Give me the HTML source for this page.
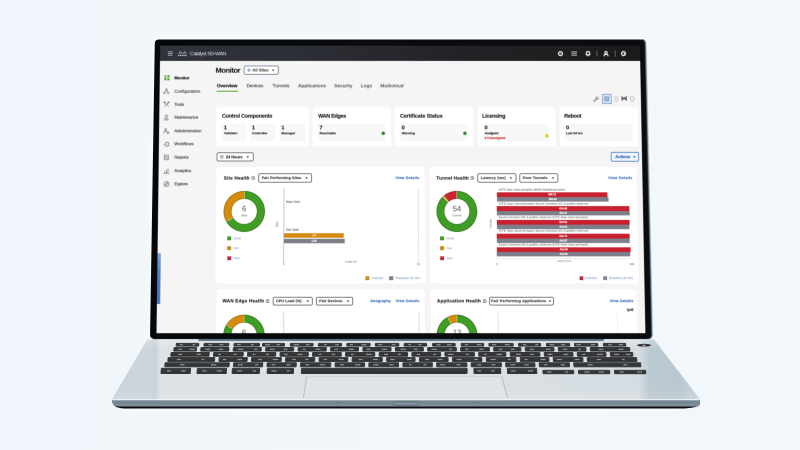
<!DOCTYPE html>
<html><head><meta charset="utf-8"><title>Catalyst SD-WAN</title>
<style>
html,body{margin:0;padding:0}
body{width:800px;height:450px;overflow:hidden;position:relative;background:#f1f7fb;font-family:"Liberation Sans",sans-serif}
#lap{position:absolute;left:0;top:0}
#scr{position:absolute;left:0;top:0;width:1920px;height:1150px;transform-origin:0 0;transform:matrix3d(0.24984375,0,0,-2.574430202e-20,-0.005778242194,0.2445477603,0,-1.636326447e-05,0,0,1,0,160.2,45.7,0,1);overflow:hidden;background:#f6f6f6;filter:blur(1.4px)}
#scr div,#scr span,#scr svg{position:absolute;box-sizing:border-box}
#scr span{white-space:nowrap;display:block;-webkit-text-stroke:0.35px currentColor}
.card{background:#fff;border-radius:9px}
.sub{background:#f8f8f8;border-radius:4px}
.dd{border:3px solid #4f555c;border-radius:7px;background:#fff}
</style></head><body>
<svg id="lap" width="800" height="450" viewBox="0 0 800 450">
<defs>
<linearGradient id="bg" x1="0" y1="0" x2="1" y2="0">
<stop offset="0" stop-color="#f0f6fb"/><stop offset="0.5" stop-color="#f2f7fb"/><stop offset="1" stop-color="#f2f7fb"/></linearGradient>
<linearGradient id="deck" x1="112" y1="0" x2="700" y2="0" gradientUnits="userSpaceOnUse">
<stop offset="0" stop-color="#c9d3da"/>
<stop offset="0.065" stop-color="#cdd6dc"/>
<stop offset="0.073" stop-color="#c6d0d7"/>
<stop offset="0.082" stop-color="#dce2e6"/>
<stop offset="0.3" stop-color="#dbe1e5"/>
<stop offset="0.6" stop-color="#dae0e4"/>
<stop offset="0.895" stop-color="#d6dde2"/>
<stop offset="0.915" stop-color="#bbc9d2"/>
<stop offset="0.96" stop-color="#b8c7d0"/>
<stop offset="1" stop-color="#c6d1d8"/>
</linearGradient>
<linearGradient id="hinge" x1="0" y1="338" x2="0" y2="341.2" gradientUnits="userSpaceOnUse">
<stop offset="0" stop-color="#2c3742"/><stop offset="0.5" stop-color="#4d5f70"/><stop offset="1" stop-color="#7d91a1"/>
</linearGradient>
<linearGradient id="deckv" x1="0" y1="339" x2="0" y2="400" gradientUnits="userSpaceOnUse">
<stop offset="0" stop-color="#ffffff" stop-opacity="0.25"/><stop offset="0.15" stop-color="#ffffff" stop-opacity="0"/>
<stop offset="0.8" stop-color="#ffffff" stop-opacity="0"/><stop offset="1" stop-color="#ffffff" stop-opacity="0.15"/>
</linearGradient>
<linearGradient id="front" x1="0" y1="400" x2="0" y2="407" gradientUnits="userSpaceOnUse">
<stop offset="0" stop-color="#788a96"/><stop offset="0.35" stop-color="#74868f"/><stop offset="1" stop-color="#8494a0"/>
</linearGradient>
<linearGradient id="key" x1="0" y1="0" x2="0" y2="1">
<stop offset="0" stop-color="#454749"/><stop offset="0.25" stop-color="#37393b"/><stop offset="1" stop-color="#2e3032"/>
</linearGradient>
<linearGradient id="bez" x1="150" y1="0" x2="652" y2="0" gradientUnits="userSpaceOnUse">
<stop offset="0" stop-color="#060709"/><stop offset="0.5" stop-color="#0a0b0d"/><stop offset="1" stop-color="#0b0c0f"/>
</linearGradient>
<linearGradient id="hl" x1="0" y1="0" x2="1" y2="0">
<stop offset="0" stop-color="#0b0c0f"/><stop offset="0.45" stop-color="#0f1419"/><stop offset="0.62" stop-color="#3d4b58"/><stop offset="0.8" stop-color="#8496a4"/><stop offset="0.93" stop-color="#cfdae2"/><stop offset="1" stop-color="#f2f7fb" stop-opacity="0"/>
</linearGradient>
<radialGradient id="shadow" cx="0.5" cy="0.5" r="0.5"><stop offset="0" stop-color="#ffffff" stop-opacity="0.7"/><stop offset="1" stop-color="#ffffff" stop-opacity="0"/></radialGradient>
<filter id="b1"><feGaussianBlur stdDeviation="0.3"/></filter>
<filter id="b2"><feGaussianBlur stdDeviation="1.5"/></filter>
</defs>
<rect width="800" height="450" fill="url(#bg)"/>
<path d="M153 36 H648 L654 340 H148 Z" fill="#f8fbfd" filter="url(#b2)"/>
<ellipse cx="406" cy="410.5" rx="300" ry="5" fill="url(#shadow)"/>
<path d="M112.4 400 Q112.4 408.4 124 408.4 L684 408.4 Q697 408.4 699.4 404 L699.4 400 Z" fill="#0c0e12"/>
<path d="M112 399.3 L112 401.5 Q112.6 406.5 120 406.5 L697 406.5 Q700 406.5 700 403.6 L700 399.3 Z" fill="url(#front)"/>
<path d="M147.5 339.2 L653.8 339.2 L700 399.2 Q700.5 400.3 699 400.3 L113 400.3 Q111.5 400.3 112 399.2 Z" fill="url(#deck)"/>
<path d="M147.5 339.2 L653.8 339.2 L700 399.2 L112 399.2 Z" fill="url(#deckv)"/>
<path d="M112.3 399.6 L699.7 399.6" stroke="#eef2f5" stroke-width="1" fill="none"/>
<rect x="393.4" y="401.6" width="25" height="4" rx="1.2" fill="#7c8d99" stroke="#566877" stroke-width="0.7"/>
<path d="M337 403.2 l1 -1.4 l1 1.4 z M473.3 403.2 l1 -1.4 l1 1.4 z" fill="#55677a"/>
<path d="M306.6 376.6 L501.6 376.6 L507.5 398 L303.4 398 Z" fill="#dee4e8"/>
<path d="M306.6 376.6 L303.4 398 M501.6 376.6 L507.5 398" stroke="#a3adb6" stroke-width="0.7" fill="none"/>
<path d="M306.6 376.6 L501.6 376.6" stroke="#c3cbd1" stroke-width="0.5" fill="none"/>
<g fill="url(#key)" stroke="#343638" stroke-width="1.0" stroke-linejoin="round" filter="url(#b1)"><path d="M176.40 343.40 L198.85 343.40 L198.58 346.10 L176.13 346.10 Z"/><path d="M204.15 343.40 L228.85 343.40 L228.62 346.10 L203.92 346.10 Z"/><path d="M234.15 343.40 L259.60 343.40 L259.40 346.10 L233.95 346.10 Z"/><path d="M262.65 343.40 L284.60 343.40 L284.44 346.10 L262.49 346.10 Z"/><path d="M290.40 343.40 L313.10 343.40 L312.97 346.10 L290.27 346.10 Z"/><path d="M318.40 343.40 L341.60 343.40 L341.51 346.10 L318.31 346.10 Z"/><path d="M346.90 343.40 L370.10 343.40 L370.04 346.10 L346.84 346.10 Z"/><path d="M375.40 343.40 L398.85 343.40 L398.83 346.10 L375.38 346.10 Z"/><path d="M404.15 343.40 L426.60 343.40 L426.61 346.10 L404.16 346.10 Z"/><path d="M432.65 343.40 L455.10 343.40 L455.15 346.10 L432.70 346.10 Z"/><path d="M461.15 343.40 L483.60 343.40 L483.68 346.10 L461.23 346.10 Z"/><path d="M488.90 343.40 L513.10 343.40 L513.22 346.10 L489.02 346.10 Z"/><path d="M518.40 343.40 L540.60 343.40 L540.75 346.10 L518.55 346.10 Z"/><path d="M546.40 343.40 L569.60 343.40 L569.79 346.10 L546.59 346.10 Z"/><path d="M574.40 343.40 L597.60 343.40 L597.82 346.10 L574.62 346.10 Z"/><path d="M603.40 343.40 L625.60 343.40 L625.86 346.10 L603.66 346.10 Z"/><path d="M174.15 347.50 L196.60 347.50 L196.26 351.10 L173.81 351.10 Z"/><path d="M201.00 347.50 L229.00 347.50 L228.71 351.10 L200.71 351.10 Z"/><path d="M233.40 347.50 L261.40 347.50 L261.16 351.10 L233.16 351.10 Z"/><path d="M265.80 347.50 L293.80 347.50 L293.61 351.10 L265.61 351.10 Z"/><path d="M298.20 347.50 L326.30 347.50 L326.16 351.10 L298.06 351.10 Z"/><path d="M330.70 347.50 L358.55 347.50 L358.46 351.10 L330.61 351.10 Z"/><path d="M362.95 347.50 L391.05 347.50 L391.01 351.10 L362.91 351.10 Z"/><path d="M395.45 347.50 L423.30 347.50 L423.31 351.10 L395.46 351.10 Z"/><path d="M427.70 347.50 L456.30 347.50 L456.36 351.10 L427.76 351.10 Z"/><path d="M460.70 347.50 L489.30 347.50 L489.41 351.10 L460.81 351.10 Z"/><path d="M493.70 347.50 L520.80 347.50 L520.95 351.10 L493.85 351.10 Z"/><path d="M525.20 347.50 L553.80 347.50 L554.00 351.10 L525.40 351.10 Z"/><path d="M558.20 347.50 L585.80 347.50 L586.05 351.10 L558.45 351.10 Z"/><path d="M590.20 347.50 L629.60 347.50 L629.91 351.10 L590.51 351.10 Z"/><path d="M171.15 352.50 L209.30 352.50 L208.96 356.20 L170.81 356.20 Z"/><path d="M213.70 352.50 L243.30 352.50 L243.02 356.20 L213.42 356.20 Z"/><path d="M247.70 352.50 L275.80 352.50 L275.57 356.20 L247.47 356.20 Z"/><path d="M280.20 352.50 L308.30 352.50 L308.13 356.20 L280.03 356.20 Z"/><path d="M312.70 352.50 L341.30 352.50 L341.18 356.20 L312.58 356.20 Z"/><path d="M345.70 352.50 L374.80 352.50 L374.73 356.20 L345.63 356.20 Z"/><path d="M379.20 352.50 L407.55 352.50 L407.53 356.20 L379.18 356.20 Z"/><path d="M411.95 352.50 L440.55 352.50 L440.58 356.20 L411.98 356.20 Z"/><path d="M444.95 352.50 L474.30 352.50 L474.38 356.20 L445.03 356.20 Z"/><path d="M478.70 352.50 L505.80 352.50 L505.93 356.20 L478.83 356.20 Z"/><path d="M510.20 352.50 L539.80 352.50 L539.99 356.20 L510.39 356.20 Z"/><path d="M544.20 352.50 L572.80 352.50 L573.04 356.20 L544.44 356.20 Z"/><path d="M577.20 352.50 L605.80 352.50 L606.09 356.20 L577.49 356.20 Z"/><path d="M610.20 352.50 L632.60 352.50 L632.94 356.20 L610.54 356.20 Z"/><path d="M168.15 357.60 L214.80 357.60 L214.46 361.40 L167.81 361.40 Z"/><path d="M219.20 357.60 L247.30 357.60 L247.02 361.40 L218.92 361.40 Z"/><path d="M251.70 357.60 L281.30 357.60 L281.08 361.40 L251.48 361.40 Z"/><path d="M285.70 357.60 L314.80 357.60 L314.63 361.40 L285.53 361.40 Z"/><path d="M319.20 357.60 L347.80 357.60 L347.68 361.40 L319.08 361.40 Z"/><path d="M352.20 357.60 L382.30 357.60 L382.24 361.40 L352.14 361.40 Z"/><path d="M386.70 357.60 L415.05 357.60 L415.04 361.40 L386.69 361.40 Z"/><path d="M419.45 357.60 L448.05 357.60 L448.09 361.40 L419.49 361.40 Z"/><path d="M452.45 357.60 L481.80 357.60 L481.90 361.40 L452.55 361.40 Z"/><path d="M486.20 357.60 L515.80 357.60 L515.95 361.40 L486.35 361.40 Z"/><path d="M520.20 357.60 L548.80 357.60 L549.01 361.40 L520.41 361.40 Z"/><path d="M553.20 357.60 L582.80 357.60 L583.06 361.40 L553.46 361.40 Z"/><path d="M587.20 357.60 L636.60 357.60 L636.93 361.40 L587.53 361.40 Z"/><path d="M165.15 362.80 L229.30 362.80 L228.95 366.80 L164.80 366.80 Z"/><path d="M233.70 362.80 L262.80 362.80 L262.54 366.80 L233.44 366.80 Z"/><path d="M267.20 362.80 L296.30 362.80 L296.09 366.80 L266.99 366.80 Z"/><path d="M300.70 362.80 L330.80 362.80 L330.65 366.80 L300.55 366.80 Z"/><path d="M335.20 362.80 L364.55 362.80 L364.46 366.80 L335.11 366.80 Z"/><path d="M368.95 362.80 L398.55 362.80 L398.51 366.80 L368.91 366.80 Z"/><path d="M402.95 362.80 L432.30 362.80 L432.32 366.80 L402.97 366.80 Z"/><path d="M436.70 362.80 L466.80 362.80 L466.88 366.80 L436.78 366.80 Z"/><path d="M471.20 362.80 L501.30 362.80 L501.43 366.80 L471.33 366.80 Z"/><path d="M505.70 362.80 L534.80 362.80 L534.99 366.80 L505.89 366.80 Z"/><path d="M539.20 362.80 L569.30 362.80 L569.55 366.80 L539.45 366.80 Z"/><path d="M573.70 362.80 L640.60 362.80 L640.93 366.80 L574.03 366.80 Z"/><path d="M161.40 368.30 L190.60 368.30 L190.13 373.50 L160.93 373.50 Z"/><path d="M197.40 368.30 L226.60 368.30 L226.20 373.50 L197.00 373.50 Z"/><path d="M232.40 368.30 L259.60 368.30 L259.27 373.50 L232.07 373.50 Z"/><path d="M267.40 368.30 L293.60 368.30 L293.34 373.50 L267.14 373.50 Z"/><path d="M301.40 368.30 L467.10 368.30 L467.06 373.50 L301.36 373.50 Z"/><path d="M473.90 368.30 L500.60 368.30 L500.77 373.50 L474.07 373.50 Z"/><path d="M507.40 368.30 L536.60 368.30 L536.84 373.50 L507.64 373.50 Z"/><path d="M542.90 370.30 L573.60 370.30 L573.82 373.70 L543.12 373.70 Z"/><path d="M578.40 370.30 L609.60 370.30 L609.88 373.70 L578.68 373.70 Z"/><path d="M614.40 370.30 L645.60 370.30 L645.93 373.70 L614.73 373.70 Z"/></g>
<g fill="#d0d2d4" opacity="0.6" filter="url(#b1)"><rect x="179.8" y="344.1" width="3.0" height="1.2" /><rect x="192.5" y="344.1" width="2.7" height="1.2" /><rect x="208.4" y="344.1" width="3.6" height="1.2" /><rect x="219.5" y="344.1" width="4.0" height="1.2" /><rect x="237.0" y="344.1" width="3.8" height="1.2" /><rect x="250.8" y="344.1" width="2.8" height="1.2" /><rect x="265.2" y="344.1" width="5.0" height="1.2" /><rect x="276.6" y="344.1" width="3.2" height="1.2" /><rect x="293.6" y="344.1" width="5.3" height="1.2" /><rect x="306.0" y="344.1" width="3.7" height="1.2" /><rect x="324.1" y="344.1" width="2.6" height="1.2" /><rect x="335.4" y="344.1" width="3.4" height="1.2" /><rect x="350.0" y="344.1" width="2.9" height="1.2" /><rect x="361.5" y="344.1" width="4.9" height="1.2" /><rect x="378.0" y="344.1" width="4.2" height="1.2" /><rect x="391.8" y="344.1" width="3.6" height="1.2" /><rect x="408.4" y="344.1" width="2.7" height="1.2" /><rect x="418.3" y="344.1" width="3.1" height="1.2" /><rect x="436.7" y="344.1" width="3.8" height="1.2" /><rect x="447.0" y="344.1" width="4.3" height="1.2" /><rect x="464.7" y="344.1" width="3.4" height="1.2" /><rect x="476.8" y="344.1" width="4.6" height="1.2" /><rect x="491.9" y="344.1" width="4.2" height="1.2" /><rect x="504.8" y="344.1" width="5.1" height="1.2" /><rect x="522.8" y="344.1" width="3.4" height="1.2" /><rect x="535.3" y="344.1" width="2.9" height="1.2" /><rect x="549.4" y="344.1" width="4.8" height="1.2" /><rect x="561.0" y="344.1" width="4.0" height="1.2" /><rect x="576.4" y="344.1" width="4.5" height="1.2" /><rect x="590.7" y="344.1" width="4.2" height="1.2" /><rect x="608.2" y="344.1" width="3.4" height="1.2" /><rect x="618.7" y="344.1" width="4.3" height="1.2" /><rect x="177.9" y="348.7" width="3.9" height="1.2" /><rect x="189.5" y="348.7" width="5.3" height="1.2" /><rect x="205.5" y="348.7" width="4.5" height="1.2" /><rect x="218.6" y="348.7" width="4.6" height="1.2" /><rect x="237.9" y="348.7" width="5.5" height="1.2" /><rect x="253.9" y="348.7" width="3.4" height="1.2" /><rect x="270.0" y="348.7" width="4.5" height="1.2" /><rect x="283.6" y="348.7" width="3.9" height="1.2" /><rect x="302.6" y="348.7" width="2.9" height="1.2" /><rect x="315.7" y="348.7" width="4.8" height="1.2" /><rect x="334.7" y="348.7" width="3.2" height="1.2" /><rect x="348.9" y="348.7" width="5.1" height="1.2" /><rect x="366.6" y="348.7" width="3.8" height="1.2" /><rect x="381.8" y="348.7" width="5.2" height="1.2" /><rect x="400.6" y="348.7" width="5.1" height="1.2" /><rect x="414.0" y="348.7" width="3.7" height="1.2" /><rect x="431.7" y="348.7" width="5.2" height="1.2" /><rect x="449.2" y="348.7" width="3.0" height="1.2" /><rect x="465.1" y="348.7" width="3.2" height="1.2" /><rect x="479.6" y="348.7" width="4.0" height="1.2" /><rect x="498.9" y="348.7" width="3.3" height="1.2" /><rect x="510.9" y="348.7" width="3.8" height="1.2" /><rect x="529.7" y="348.7" width="4.2" height="1.2" /><rect x="545.9" y="348.7" width="4.6" height="1.2" /><rect x="562.8" y="348.7" width="4.4" height="1.2" /><rect x="578.3" y="348.7" width="2.7" height="1.2" /><rect x="598.6" y="348.7" width="4.8" height="1.2" /><rect x="618.6" y="348.7" width="4.9" height="1.2" /><rect x="178.3" y="353.8" width="3.7" height="1.2" /><rect x="196.6" y="353.8" width="4.4" height="1.2" /><rect x="218.2" y="353.8" width="2.7" height="1.2" /><rect x="233.7" y="353.8" width="3.0" height="1.2" /><rect x="252.7" y="353.8" width="2.7" height="1.2" /><rect x="266.0" y="353.8" width="3.0" height="1.2" /><rect x="284.0" y="353.8" width="3.6" height="1.2" /><rect x="297.5" y="353.8" width="5.1" height="1.2" /><rect x="318.5" y="353.8" width="2.9" height="1.2" /><rect x="331.8" y="353.8" width="3.5" height="1.2" /><rect x="350.9" y="353.8" width="2.9" height="1.2" /><rect x="366.0" y="353.8" width="5.5" height="1.2" /><rect x="384.0" y="353.8" width="4.0" height="1.2" /><rect x="398.0" y="353.8" width="2.8" height="1.2" /><rect x="416.8" y="353.8" width="3.3" height="1.2" /><rect x="433.1" y="353.8" width="3.0" height="1.2" /><rect x="448.0" y="353.8" width="5.4" height="1.2" /><rect x="465.8" y="353.8" width="2.9" height="1.2" /><rect x="484.1" y="353.8" width="2.6" height="1.2" /><rect x="496.6" y="353.8" width="5.4" height="1.2" /><rect x="516.2" y="353.8" width="4.6" height="1.2" /><rect x="530.1" y="353.8" width="3.6" height="1.2" /><rect x="547.7" y="353.8" width="4.8" height="1.2" /><rect x="563.5" y="353.8" width="4.8" height="1.2" /><rect x="582.1" y="353.8" width="3.2" height="1.2" /><rect x="597.1" y="353.8" width="5.5" height="1.2" /><rect x="614.2" y="353.8" width="4.9" height="1.2" /><rect x="625.8" y="353.8" width="4.7" height="1.2" /><rect x="176.8" y="358.9" width="4.1" height="1.2" /><rect x="201.6" y="358.9" width="2.6" height="1.2" /><rect x="222.9" y="358.9" width="3.3" height="1.2" /><rect x="237.5" y="358.9" width="4.6" height="1.2" /><rect x="258.3" y="358.9" width="3.8" height="1.2" /><rect x="272.7" y="358.9" width="5.5" height="1.2" /><rect x="292.3" y="358.9" width="3.6" height="1.2" /><rect x="305.3" y="358.9" width="3.2" height="1.2" /><rect x="323.7" y="358.9" width="3.1" height="1.2" /><rect x="338.6" y="358.9" width="5.2" height="1.2" /><rect x="358.6" y="358.9" width="3.9" height="1.2" /><rect x="373.0" y="358.9" width="4.9" height="1.2" /><rect x="390.1" y="358.9" width="4.5" height="1.2" /><rect x="407.0" y="358.9" width="4.8" height="1.2" /><rect x="425.2" y="358.9" width="3.9" height="1.2" /><rect x="437.7" y="358.9" width="4.9" height="1.2" /><rect x="456.6" y="358.9" width="4.9" height="1.2" /><rect x="474.2" y="358.9" width="3.7" height="1.2" /><rect x="490.4" y="358.9" width="5.3" height="1.2" /><rect x="507.8" y="358.9" width="3.0" height="1.2" /><rect x="524.6" y="358.9" width="3.0" height="1.2" /><rect x="540.6" y="358.9" width="4.9" height="1.2" /><rect x="556.8" y="358.9" width="5.0" height="1.2" /><rect x="574.8" y="358.9" width="4.5" height="1.2" /><rect x="596.8" y="358.9" width="4.1" height="1.2" /><rect x="622.1" y="358.9" width="2.5" height="1.2" /><rect x="180.2" y="364.2" width="4.4" height="1.2" /><rect x="210.9" y="364.2" width="5.3" height="1.2" /><rect x="238.0" y="364.2" width="5.1" height="1.2" /><rect x="255.1" y="364.2" width="3.1" height="1.2" /><rect x="271.8" y="364.2" width="3.4" height="1.2" /><rect x="286.3" y="364.2" width="4.3" height="1.2" /><rect x="305.4" y="364.2" width="3.8" height="1.2" /><rect x="319.8" y="364.2" width="5.2" height="1.2" /><rect x="340.0" y="364.2" width="3.9" height="1.2" /><rect x="355.1" y="364.2" width="5.2" height="1.2" /><rect x="373.3" y="364.2" width="5.3" height="1.2" /><rect x="389.3" y="364.2" width="4.1" height="1.2" /><rect x="408.9" y="364.2" width="2.6" height="1.2" /><rect x="423.5" y="364.2" width="3.0" height="1.2" /><rect x="440.1" y="364.2" width="4.9" height="1.2" /><rect x="456.5" y="364.2" width="3.9" height="1.2" /><rect x="477.1" y="364.2" width="4.2" height="1.2" /><rect x="491.4" y="364.2" width="4.1" height="1.2" /><rect x="510.5" y="364.2" width="4.9" height="1.2" /><rect x="524.5" y="364.2" width="4.2" height="1.2" /><rect x="544.1" y="364.2" width="3.3" height="1.2" /><rect x="560.8" y="364.2" width="4.0" height="1.2" /><rect x="588.0" y="364.2" width="4.8" height="1.2" /><rect x="623.4" y="364.2" width="3.8" height="1.2" /><rect x="166.8" y="370.3" width="4.0" height="1.2" /><rect x="181.2" y="370.3" width="4.6" height="1.2" /><rect x="202.3" y="370.3" width="4.1" height="1.2" /><rect x="216.8" y="370.3" width="5.3" height="1.2" /><rect x="237.0" y="370.3" width="5.1" height="1.2" /><rect x="252.7" y="370.3" width="3.3" height="1.2" /><rect x="271.3" y="370.3" width="5.3" height="1.2" /><rect x="286.8" y="370.3" width="2.9" height="1.2" /><rect x="477.3" y="370.3" width="3.8" height="1.2" /><rect x="491.2" y="370.3" width="3.2" height="1.2" /><rect x="511.0" y="370.3" width="4.5" height="1.2" /><rect x="527.8" y="370.3" width="5.2" height="1.2" /><rect x="547.0" y="371.4" width="4.6" height="1.2" /><rect x="565.1" y="371.4" width="2.9" height="1.2" /><rect x="584.4" y="371.4" width="5.4" height="1.2" /><rect x="598.5" y="371.4" width="5.4" height="1.2" /><rect x="619.7" y="371.4" width="4.0" height="1.2" /><rect x="637.0" y="371.4" width="5.0" height="1.2" /></g>
<ellipse cx="644" cy="345.2" rx="7" ry="1.4" fill="#2a2c2f"/><ellipse cx="644" cy="345.2" rx="2" ry="0.7" fill="#9aa0a6"/>
<rect x="198.5" y="338" width="405.3" height="3.1" fill="url(#hinge)"/>
<path d="M640.08 43.80 Q640.00 39.60 644.20 39.60 L642.80 39.60 Q647.00 39.60 647.09 43.80 L653.61 334.70 Q653.70 338.90 649.50 338.90 L650.20 338.90 Q646.00 338.90 645.92 334.70 Z" fill="#e6eef3"/>
<path d="M640.08 43.80 Q640.00 39.60 644.20 39.60 L642.30 39.60 Q646.50 39.60 646.59 43.80 L653.11 334.70 Q653.20 338.90 649.00 338.90 L650.20 338.90 Q646.00 338.90 645.92 334.70 Z" fill="#c3d0d9"/>
<path d="M640.08 43.80 Q640.00 39.60 644.20 39.60 L641.80 39.60 Q646.00 39.60 646.09 43.80 L652.61 334.70 Q652.70 338.90 648.50 338.90 L650.20 338.90 Q646.00 338.90 645.92 334.70 Z" fill="#94a5b2"/>
<path d="M640.08 43.80 Q640.00 39.60 644.20 39.60 L641.30 39.60 Q645.50 39.60 645.59 43.80 L652.11 334.70 Q652.20 338.90 648.00 338.90 L650.20 338.90 Q646.00 338.90 645.92 334.70 Z" fill="#5f7080"/>
<path d="M640.08 43.80 Q640.00 39.60 644.20 39.60 L640.80 39.60 Q645.00 39.60 645.09 43.80 L651.61 334.70 Q651.70 338.90 647.50 338.90 L650.20 338.90 Q646.00 338.90 645.92 334.70 Z" fill="#2c3741"/>
<path d="M154.78 43.70 Q154.85 39.50 159.05 39.50 L640.20 39.60 Q644.40 39.60 644.49 43.80 L651.01 334.70 Q651.10 338.90 646.90 338.90 L154.20 338.90 Q150.00 338.90 150.07 334.70 Z" fill="url(#bez)"/>
<path d="M152 339.3 L650 339.3" stroke="#8a959e" stroke-width="0.7" opacity="0.5"/>
</svg>
<div id="scr">
<div style="left:-16.8px;top:-2.9px;width:1954.9px;height:1156.0px;background:#f5f5f5;"></div>
<div style="left:-16.8px;top:-2.9px;width:1976.1px;height:64.4px;background:linear-gradient(90deg,#31333b 0%,#2c2e35 30%,#222226 62%,#1b191a 100%);"></div>
<svg style="left:30.7px;top:22.4px;" width="19.4" height="19.5" viewBox="0 0 4.80 4.80" preserveAspectRatio="none"><path d="M0 0.7H4.8M0 2.4H4.8M0 4.1H4.8" stroke="#b9babd" stroke-width="0.8"/></svg>
<svg style="left:69.5px;top:20.0px;" width="38.3" height="23.6" viewBox="0 0 9.5 5.8" preserveAspectRatio="none"><g fill="#cfd0d2"><rect x="0.20" y="2.20" width="0.5" height="1.00" rx="0.25"/><rect x="1.30" y="1.30" width="0.5" height="1.90" rx="0.25"/><rect x="2.40" y="0.20" width="0.5" height="3.00" rx="0.25"/><rect x="3.50" y="1.30" width="0.5" height="1.90" rx="0.25"/><rect x="4.60" y="2.20" width="0.5" height="1.00" rx="0.25"/><rect x="5.70" y="1.30" width="0.5" height="1.90" rx="0.25"/><rect x="6.80" y="0.20" width="0.5" height="3.00" rx="0.25"/><rect x="7.90" y="1.30" width="0.5" height="1.90" rx="0.25"/><rect x="9.00" y="2.20" width="0.5" height="1.00" rx="0.25"/><rect x="0.50" y="4.2" width="1.3" height="1.3" rx="0.4"/><rect x="2.25" y="4.2" width="1.3" height="1.3" rx="0.4"/><rect x="4.00" y="4.2" width="1.3" height="1.3" rx="0.4"/><rect x="5.75" y="4.2" width="1.3" height="1.3" rx="0.4"/><rect x="7.50" y="4.2" width="1.3" height="1.3" rx="0.4"/></g></svg>
<span style="left:119.6px;top:19.5px;font-size:20.40px;line-height:24.5px;letter-spacing:-1.16px;color:#cdced1;">Catalyst SD-WAN</span>
<svg style="left:1589.5px;top:19.6px;" width="23.7" height="24.4" viewBox="0 0 6 6" preserveAspectRatio="none"><circle cx="3" cy="3" r="2.00" fill="none" stroke="#ececee" stroke-width="1.25"/><circle cx="3" cy="3" r="0.55" fill="#ececee"/></svg>
<svg style="left:1645.1px;top:22.4px;" width="22.5" height="19.5" viewBox="0 0 5.70 4.80" preserveAspectRatio="none"><path d="M0 0.7H5.7M0 2.4H5.7M0 4.1H5.7" stroke="#aeaeb2" stroke-width="1"/></svg>
<svg style="left:1700.0px;top:19.6px;" width="23.6" height="24.4" viewBox="0 0 6 6" preserveAspectRatio="none"><path d="M3 0.9C1.7 0.9 1.3 1.9 1.3 3V4.2H4.7V3C4.7 1.9 4.3 0.9 3 0.9Z" fill="none" stroke="#ececee" stroke-width="1.25"/><rect x="2.2" y="4.8" width="1.6" height="0.8" fill="#ececee"/></svg>
<div style="left:1746.0px;top:20.0px;width:2.8px;height:23.6px;background:#77777c;"></div>
<svg style="left:1772.0px;top:19.6px;" width="23.6" height="24.4" viewBox="0 0 6 6" preserveAspectRatio="none"><circle cx="3" cy="2.0" r="1.2" fill="none" stroke="#ececee" stroke-width="1.15"/><path d="M1.0 5.7V5.2C1.0 4.0 1.8 3.7 3 3.7S5.0 4.0 5.0 5.2V5.7" fill="none" stroke="#ececee" stroke-width="1.15"/></svg>
<div style="left:1818.8px;top:20.0px;width:2.8px;height:23.6px;background:#77777c;"></div>
<svg style="left:1842.4px;top:19.6px;" width="23.6" height="24.4" viewBox="0 0 6 6" preserveAspectRatio="none"><circle cx="3" cy="3" r="2.00" fill="none" stroke="#ececee" stroke-width="1.25"/><path d="M3 3H5" stroke="#ececee" stroke-width="1.1"/></svg>
<span style="left:58.0px;top:120.7px;font-size:17.17px;line-height:20.6px;font-weight:700;-webkit-text-stroke-width:0.45px;letter-spacing:-0.43px;color:#1a1a1a;-webkit-text-stroke-width:0.45px;">Monitor</span>
<span style="left:58.6px;top:175.0px;font-size:17.16px;line-height:20.6px;letter-spacing:0.13px;color:#3f3f3f;-webkit-text-stroke-width:0.55px;">Configuration</span>
<span style="left:59.2px;top:228.1px;font-size:17.14px;line-height:20.6px;letter-spacing:-0.11px;color:#3f3f3f;-webkit-text-stroke-width:0.55px;">Tools</span>
<span style="left:59.8px;top:281.0px;font-size:17.13px;line-height:20.6px;letter-spacing:-0.22px;color:#3f3f3f;-webkit-text-stroke-width:0.55px;">Maintenance</span>
<span style="left:60.5px;top:335.5px;font-size:17.11px;line-height:20.5px;letter-spacing:-0.01px;color:#3f3f3f;-webkit-text-stroke-width:0.55px;">Administration</span>
<span style="left:61.1px;top:388.3px;font-size:17.10px;line-height:20.5px;letter-spacing:-0.20px;color:#3f3f3f;-webkit-text-stroke-width:0.55px;">Workflows</span>
<span style="left:61.7px;top:441.8px;font-size:17.08px;line-height:20.5px;letter-spacing:-0.43px;color:#3f3f3f;-webkit-text-stroke-width:0.55px;">Reports</span>
<span style="left:62.4px;top:495.9px;font-size:17.07px;line-height:20.5px;letter-spacing:-0.13px;color:#3f3f3f;-webkit-text-stroke-width:0.55px;">Analytics</span>
<span style="left:63.0px;top:548.8px;font-size:17.05px;line-height:20.5px;letter-spacing:-0.72px;color:#3f3f3f;-webkit-text-stroke-width:0.55px;">Explore</span>
<svg style="left:17.5px;top:120.0px;" width="21.8" height="21.1" viewBox="0 0 5.4 5.2" preserveAspectRatio="none"><g fill="#58a83c"><rect x="0" y="0" width="2.2" height="1.3"/><rect x="3.0" y="0" width="2.4" height="2.3"/><rect x="0" y="2.1" width="2.2" height="3.1"/><rect x="3.0" y="3.1" width="2.4" height="2.1"/></g></svg>
<svg style="left:15.0px;top:173.2px;" width="24.2" height="24.3" viewBox="0 0 6 6" preserveAspectRatio="none"><g fill="none" stroke="#6e6e6e" stroke-width="0.6" stroke-linecap="round"><circle cx="3" cy="1.3" r="0.8"/><circle cx="1.1" cy="4.6" r="0.8"/><circle cx="4.9" cy="4.6" r="0.8"/><path d="M2.6 2L1.5 3.9M3.4 2L4.5 3.9"/></g></svg>
<svg style="left:15.6px;top:226.2px;" width="24.2" height="24.3" viewBox="0 0 6 6" preserveAspectRatio="none"><g fill="none" stroke="#6e6e6e" stroke-width="0.6" stroke-linecap="round"><path d="M1 1L5 5M5 1L1 5"/><circle cx="1" cy="1" r="0.6"/><circle cx="5" cy="1" r="0.6"/></g></svg>
<svg style="left:16.3px;top:279.2px;" width="24.2" height="24.2" viewBox="0 0 6 6" preserveAspectRatio="none"><g fill="none" stroke="#6e6e6e" stroke-width="0.6" stroke-linecap="round"><circle cx="3" cy="1.6" r="1.1"/><path d="M3 2.7V4.4M1.2 4.4H4.8M0.8 5.5H5.2"/></g></svg>
<svg style="left:17.0px;top:333.7px;" width="24.2" height="24.2" viewBox="0 0 6 6" preserveAspectRatio="none"><g fill="none" stroke="#6e6e6e" stroke-width="0.6" stroke-linecap="round"><circle cx="2.2" cy="1.5" r="1"/><path d="M0.5 5.3C0.5 3.8 1.2 3.1 2.2 3.1S3.4 3.5 3.6 4"/><circle cx="4.7" cy="4.6" r="0.9"/></g></svg>
<svg style="left:17.6px;top:386.5px;" width="24.2" height="24.1" viewBox="0 0 6 6" preserveAspectRatio="none"><g fill="none" stroke="#6e6e6e" stroke-width="0.6" stroke-linecap="round"><path d="M0.3 3H2.2M2.2 1H4.6V5H2.2ZM4.6 2H5.7M4.6 4H5.7"/></g></svg>
<svg style="left:18.3px;top:439.9px;" width="24.1" height="24.1" viewBox="0 0 6 6" preserveAspectRatio="none"><g fill="none" stroke="#6e6e6e" stroke-width="0.6" stroke-linecap="round"><rect x="1" y="0.6" width="4" height="4.8" rx="0.5"/><path d="M1 2.2H5M1 3.8H5"/></g></svg>
<svg style="left:18.9px;top:494.1px;" width="24.1" height="24.1" viewBox="0 0 6 6" preserveAspectRatio="none"><g fill="none" stroke="#6e6e6e" stroke-width="0.6" stroke-linecap="round"><path d="M0.6 5.4H5.6M1.4 5.2V3.4M3 5.2V2M4.6 5.2V0.8"/></g></svg>
<svg style="left:19.6px;top:547.0px;" width="24.1" height="24.0" viewBox="0 0 6 6" preserveAspectRatio="none"><g fill="none" stroke="#6e6e6e" stroke-width="0.6" stroke-linecap="round"><circle cx="3" cy="3" r="2.5"/><path d="M4.2 1.8L2.6 2.6L1.8 4.2L3.4 3.4Z"/></g></svg>
<div style="left:-6.0px;top:833.6px;width:18.7px;height:201.6px;background:linear-gradient(180deg,#7fa5d8,#4f7fc4 40%,#4a78bb);"></div>
<span style="left:222.6px;top:82.0px;font-size:29.57px;line-height:35.5px;font-weight:700;-webkit-text-stroke-width:0.45px;letter-spacing:-1.44px;color:#161616;-webkit-text-stroke-width:0.20px;">Monitor</span>
<div class="dd" style="left:334.8px;top:80.6px;width:140.5px;height:37.4px;border-color:#5f7088;border-radius:8px;"></div>
<svg style="left:348.0px;top:90.4px;" width="16.1" height="18.7" viewBox="0 0 4 4.6" preserveAspectRatio="none"><circle cx="2" cy="2.3" r="1.3" fill="#a9bbd8" stroke="#6f8fc4" stroke-width="0.5"/></svg>
<span style="left:369.3px;top:89.6px;font-size:16.78px;line-height:20.1px;font-weight:700;-webkit-text-stroke-width:0.45px;letter-spacing:-0.12px;color:#555;-webkit-text-stroke-width:0.50px;">All Sites</span>
<svg style="left:446.0px;top:95.7px;" width="12.8" height="8.9" viewBox="0 0 3.2 2.2" preserveAspectRatio="none"><path d="M0.3 0.3H2.9L1.6 2.0Z" fill="#3a3a3a"/></svg>
<span style="left:228.4px;top:152.2px;font-size:18.76px;line-height:22.5px;font-weight:700;-webkit-text-stroke-width:0.45px;letter-spacing:-0.20px;color:#111;-webkit-text-stroke-width:0.50px;">Overview</span>
<span style="left:347.0px;top:152.2px;font-size:18.76px;line-height:22.5px;letter-spacing:0.05px;color:#484848;-webkit-text-stroke-width:0.60px;">Devices</span>
<span style="left:450.3px;top:152.2px;font-size:18.76px;line-height:22.5px;letter-spacing:0.26px;color:#484848;-webkit-text-stroke-width:0.60px;">Tunnels</span>
<span style="left:553.3px;top:152.2px;font-size:18.76px;line-height:22.5px;letter-spacing:0.85px;color:#484848;-webkit-text-stroke-width:0.60px;">Applications</span>
<span style="left:697.0px;top:152.2px;font-size:18.76px;line-height:22.5px;letter-spacing:0.61px;color:#484848;-webkit-text-stroke-width:0.60px;">Security</span>
<span style="left:804.0px;top:152.2px;font-size:18.76px;line-height:22.5px;letter-spacing:0.81px;color:#484848;-webkit-text-stroke-width:0.60px;">Logs</span>
<span style="left:881.1px;top:152.2px;font-size:18.76px;line-height:22.5px;letter-spacing:0.89px;color:#484848;-webkit-text-stroke-width:0.60px;">Multicloud</span>
<div style="left:226.6px;top:182.5px;width:86.2px;height:4.1px;background:#55a630;border-radius:2px;"></div>
<svg style="left:1728.3px;top:201.5px;" width="27.5" height="28.3" viewBox="0 0 7 7" preserveAspectRatio="none"><path d="M1.3 5.8L3.9 3.2" fill="none" stroke="#9a9a9a" stroke-width="1.6" stroke-linecap="round"/><circle cx="4.5" cy="2.6" r="1.7" fill="#9a9a9a"/><path d="M4.6 2.5L6.4 0.7" stroke="#f6f6f6" stroke-width="1.0"/></svg>
<div style="left:1764.7px;top:196.3px;width:38.0px;height:39.7px;border:2.8px solid #5f7fae;border-radius:3px;background:#d3e2f6;"></div>
<svg style="left:1774.1px;top:206.4px;" width="19.2" height="19.8" viewBox="0 0 4.9 4.9" preserveAspectRatio="none"><g fill="none" stroke="#5f8acb" stroke-width="0.7"><rect x="0.5" y="0.5" width="3.9" height="3.9"/><path d="M0.5 2.2H4.4M2.6 2.2V4.4"/></g></svg>
<svg style="left:1812.1px;top:203.6px;" width="19.5" height="24.3" viewBox="0 0 5 6" preserveAspectRatio="none"><g fill="none" stroke="#d2caca" stroke-width="0.6"><rect x="1" y="0.5" width="3" height="5"/><path d="M1 2.2H4M1 3.9H4"/></g></svg>
<svg style="left:1840.4px;top:201.5px;" width="26.7" height="25.9" viewBox="0 0 6.8 6.4" preserveAspectRatio="none"><g fill="#5c5c5c"><rect x="0.6" y="0.8" width="1.2" height="4.4"/><rect x="4.8" y="0.8" width="1.2" height="4.4"/><rect x="0.6" y="2.6" width="5.4" height="1.5"/><rect x="2.7" y="1.5" width="1.2" height="1.8"/></g></svg>
<svg style="left:1873.9px;top:202.8px;" width="23.4" height="27.5" viewBox="0 0 6 6.8" preserveAspectRatio="none"><path d="M3 1.0C1.7 1.0 0.9 2.0 0.9 3.1C0.9 4.1 1.8 4.6 2.2 5.3H3.8C4.2 4.6 5.1 4.1 5.1 3.1C5.1 2.0 4.3 1.0 3 1.0Z" fill="none" stroke="#b3b3b3" stroke-width="0.7"/></svg>
<div class="card" style="left:227.2px;top:250.1px;width:369.2px;height:157.3px;"></div>
<span style="left:249.8px;top:272.5px;font-size:21.31px;line-height:25.6px;font-weight:700;-webkit-text-stroke-width:0.45px;letter-spacing:-0.66px;color:#1c1c1c;-webkit-text-stroke-width:0.40px;">Control Components</span>
<div class="card" style="left:610.6px;top:250.1px;width:312.1px;height:157.3px;"></div>
<span style="left:633.0px;top:272.5px;font-size:21.31px;line-height:25.6px;font-weight:700;-webkit-text-stroke-width:0.45px;letter-spacing:-0.98px;color:#1c1c1c;-webkit-text-stroke-width:0.40px;">WAN Edges</span>
<div class="card" style="left:937.5px;top:250.1px;width:313.7px;height:157.3px;"></div>
<span style="left:958.9px;top:272.5px;font-size:21.31px;line-height:25.6px;font-weight:700;-webkit-text-stroke-width:0.45px;letter-spacing:-0.31px;color:#1c1c1c;-webkit-text-stroke-width:0.40px;">Certificate Status</span>
<div class="card" style="left:1268.0px;top:250.1px;width:310.0px;height:157.3px;"></div>
<span style="left:1286.4px;top:272.5px;font-size:21.31px;line-height:25.6px;font-weight:700;-webkit-text-stroke-width:0.45px;letter-spacing:-0.83px;color:#1c1c1c;-webkit-text-stroke-width:0.40px;">Licensing</span>
<div class="card" style="left:1594.8px;top:250.1px;width:311.2px;height:157.3px;"></div>
<span style="left:1613.1px;top:272.5px;font-size:21.31px;line-height:25.6px;font-weight:700;-webkit-text-stroke-width:0.45px;letter-spacing:-0.94px;color:#1c1c1c;-webkit-text-stroke-width:0.40px;">Reboot</span>
<div class="sub" style="left:250.1px;top:317.1px;width:97.2px;height:69.7px;"></div>
<span style="left:257.8px;top:319.6px;font-size:21.50px;line-height:25.8px;font-weight:700;-webkit-text-stroke-width:0.45px;color:#1c1c1c;">1</span>
<span style="left:258.0px;top:347.2px;font-size:13.13px;line-height:15.8px;font-weight:700;-webkit-text-stroke-width:0.45px;letter-spacing:-0.10px;color:#2a2a2a;">Validator</span>
<div class="sub" style="left:362.0px;top:317.1px;width:102.3px;height:69.7px;"></div>
<span style="left:369.6px;top:319.6px;font-size:21.50px;line-height:25.8px;font-weight:700;-webkit-text-stroke-width:0.45px;color:#1c1c1c;">1</span>
<span style="left:369.8px;top:347.2px;font-size:13.13px;line-height:15.8px;font-weight:700;-webkit-text-stroke-width:0.45px;letter-spacing:-0.19px;color:#2a2a2a;">Controller</span>
<div class="sub" style="left:479.0px;top:317.1px;width:102.5px;height:69.7px;"></div>
<span style="left:486.7px;top:319.6px;font-size:21.50px;line-height:25.8px;font-weight:700;-webkit-text-stroke-width:0.45px;color:#1c1c1c;">1</span>
<span style="left:486.8px;top:347.2px;font-size:13.13px;line-height:15.8px;font-weight:700;-webkit-text-stroke-width:0.45px;letter-spacing:0.24px;color:#2a2a2a;">Manager</span>
<div class="sub" style="left:630.7px;top:317.1px;width:270.6px;height:69.7px;"></div>
<span style="left:638.3px;top:319.6px;font-size:21.50px;line-height:25.8px;font-weight:700;-webkit-text-stroke-width:0.45px;color:#1c1c1c;">7</span>
<span style="left:638.4px;top:347.2px;font-size:13.13px;line-height:15.8px;font-weight:700;-webkit-text-stroke-width:0.45px;letter-spacing:-0.09px;color:#2a2a2a;">Reachable</span>
<div style="left:884.7px;top:347.6px;width:14.3px;height:14.5px;background:#2b8a2b;border-radius:50%;"></div>
<div class="sub" style="left:958.0px;top:317.1px;width:268.6px;height:69.7px;"></div>
<span style="left:965.5px;top:319.6px;font-size:21.50px;line-height:25.8px;font-weight:700;-webkit-text-stroke-width:0.45px;color:#1c1c1c;">0</span>
<span style="left:965.5px;top:347.2px;font-size:13.13px;line-height:15.8px;font-weight:700;-webkit-text-stroke-width:0.45px;letter-spacing:0.07px;color:#2a2a2a;">Warning</span>
<div style="left:1210.3px;top:347.6px;width:14.2px;height:14.5px;background:#2b8a2b;border-radius:50%;"></div>
<div class="sub" style="left:1288.1px;top:317.1px;width:263.9px;height:69.7px;"></div>
<span style="left:1295.5px;top:319.6px;font-size:21.50px;line-height:25.8px;font-weight:700;-webkit-text-stroke-width:0.45px;color:#1c1c1c;">0</span>
<span style="left:1295.4px;top:347.2px;font-size:13.13px;line-height:15.8px;font-weight:700;-webkit-text-stroke-width:0.45px;letter-spacing:-0.52px;color:#2a2a2a;">Assigned</span>
<span style="left:1295.2px;top:366.1px;font-size:13.13px;line-height:15.8px;font-weight:700;-webkit-text-stroke-width:0.45px;letter-spacing:-0.22px;color:#d0342c;">9 Unassigned</span>
<div style="left:1535.7px;top:358.3px;width:14.1px;height:14.5px;background:#e3cc2e;border-radius:50%;"></div>
<div class="sub" style="left:1612.6px;top:317.1px;width:270.3px;height:69.7px;"></div>
<span style="left:1620.0px;top:319.6px;font-size:21.50px;line-height:25.8px;font-weight:700;-webkit-text-stroke-width:0.45px;color:#1c1c1c;">0</span>
<span style="left:1619.7px;top:347.2px;font-size:13.13px;line-height:15.8px;font-weight:700;-webkit-text-stroke-width:0.45px;letter-spacing:-0.33px;color:#2a2a2a;">Last 24 hrs</span>
<div class="dd" style="left:230.0px;top:432.3px;width:146.5px;height:35.3px;"></div>
<svg style="left:242.4px;top:442.0px;" width="16.0" height="16.1" viewBox="0 0 4 4" preserveAspectRatio="none"><circle cx="2" cy="2" r="1.5" fill="none" stroke="#555" stroke-width="0.5"/><path d="M2 1.1V2H2.7" fill="none" stroke="#555" stroke-width="0.45"/></svg>
<span style="left:266.3px;top:440.5px;font-size:15.89px;line-height:19.1px;font-weight:700;-webkit-text-stroke-width:0.45px;letter-spacing:-0.16px;color:#333;">24 Hours</span>
<svg style="left:346.5px;top:446.4px;" width="12.8" height="8.8" viewBox="0 0 3.2 2.2" preserveAspectRatio="none"><path d="M0.3 0.3H2.9L1.6 2.0Z" fill="#3a3a3a"/></svg>
<div style="left:1795.5px;top:429.5px;width:112.9px;height:39.4px;border:3px solid #3f74c6;border-radius:7px;background:#eef4fc;"></div>
<span style="left:1813.4px;top:439.6px;font-size:16.69px;line-height:20.0px;font-weight:700;-webkit-text-stroke-width:0.45px;letter-spacing:-0.17px;color:#2b5fb3;">Actions</span>
<svg style="left:1882.6px;top:445.6px;" width="12.6" height="8.8" viewBox="0 0 3.2 2.2" preserveAspectRatio="none"><path d="M0.3 0.3H2.9L1.6 2.0Z" fill="#2b5fb3"/></svg>
<div class="card" style="left:229.3px;top:491.3px;width:826.8px;height:462.6px;"></div>
<span style="left:259.1px;top:523.7px;font-size:18.25px;line-height:21.9px;font-weight:700;-webkit-text-stroke-width:0.45px;letter-spacing:0.73px;color:#1c1c1c;">Site Health</span>
<svg style="left:367.7px;top:526.6px;" width="16.0" height="16.0" viewBox="0 0 4 4" preserveAspectRatio="none"><circle cx="2" cy="2" r="1.55" fill="none" stroke="#3c3c3c" stroke-width="0.5"/><path d="M2 1.8V2.9" stroke="#3c3c3c" stroke-width="0.5"/><circle cx="2" cy="1.15" r="0.3" fill="#3c3c3c"/></svg>
<div class="dd" style="left:395.9px;top:516.2px;width:212.8px;height:36.5px;"></div>
<span style="left:409.9px;top:525.6px;font-size:14.68px;line-height:17.6px;font-weight:700;-webkit-text-stroke-width:0.45px;letter-spacing:0.41px;color:#333;">Fair Performing Sites</span>
<svg style="left:580.8px;top:530.8px;" width="12.7" height="8.8" viewBox="0 0 3.2 2.2" preserveAspectRatio="none"><path d="M0.3 0.3H2.9L1.6 2.0Z" fill="#3a3a3a"/></svg>
<span style="left:939.9px;top:525.8px;font-size:14.68px;line-height:17.6px;font-weight:700;-webkit-text-stroke-width:0.45px;letter-spacing:0.82px;color:#2a5db0;-webkit-text-stroke-width:0.30px;">View Details</span>
<svg style="left:256.7px;top:583.9px;" width="168.3" height="168.3" viewBox="-21.10 -21.10 42.20 42.20" preserveAspectRatio="none"><path d="M-0.000 -16.550 A16.55 16.55 0 0 0 -14.333 8.275" fill="none" stroke="#d58c0c" stroke-width="7.90"/><path d="M-14.333 8.275 A16.55 16.55 0 1 0 0.000 -16.550" fill="none" stroke="#3f9c24" stroke-width="7.90"/><path d="M-0.000 -12.600 L-0.000 -20.500" stroke="#ead98a" stroke-width="0.55"/><path d="M-10.912 6.300 L-17.754 10.250" stroke="#ead98a" stroke-width="0.55"/><circle cx="0" cy="0" r="20.20" fill="none" stroke="#000" stroke-opacity="0.30" stroke-width="0.7"/><circle cx="0" cy="0" r="12.90" fill="none" stroke="#000" stroke-opacity="0.25" stroke-width="0.6"/></svg>
<span style="left:332.3px;top:638.8px;font-size:30.88px;line-height:37.1px;color:#555;-webkit-text-stroke:0;">6</span>
<span style="left:329.2px;top:677.7px;font-size:10.69px;line-height:12.8px;color:#8a8a8a;">Sites</span>
<div style="left:274.9px;top:768.1px;width:15.1px;height:15.1px;background:#3f9c24;border:1.2px solid rgba(0,0,0,0.35);"></div>
<span style="left:300.3px;top:769.0px;font-size:11.06px;line-height:13.3px;letter-spacing:0.15px;color:#7b94c2;">Good</span>
<div style="left:275.2px;top:807.0px;width:15.1px;height:15.1px;background:#d58c0c;border:1.2px solid rgba(0,0,0,0.35);"></div>
<span style="left:300.6px;top:807.9px;font-size:11.06px;line-height:13.3px;letter-spacing:0.37px;color:#7b94c2;">Fair</span>
<div style="left:275.5px;top:846.7px;width:15.1px;height:15.1px;background:#cc2331;border:1.2px solid rgba(0,0,0,0.35);"></div>
<span style="left:300.9px;top:847.6px;font-size:11.05px;line-height:13.3px;letter-spacing:0.08px;color:#7b94c2;">Poor</span>
<div style="left:495.7px;top:576.3px;width:4.1px;height:297.7px;background:#c9c9c9;"></div>
<div style="left:1030.2px;top:576.3px;width:1.5px;height:297.7px;background:#cfcfcf;"></div>
<span style="left:506.3px;top:623.2px;font-size:12.28px;line-height:14.7px;letter-spacing:0.45px;color:#555;">New York</span>
<span style="left:506.8px;top:734.1px;font-size:12.26px;line-height:14.7px;letter-spacing:-0.06px;color:#555;">San Jose</span>
<div style="left:498.9px;top:754.5px;width:236.4px;height:18.7px;background:#d78a10;"></div>
<div style="left:499.0px;top:777.2px;width:239.5px;height:18.3px;background:#7c7f86;"></div>
<span style="left:610.4px;top:757.9px;font-size:10.28px;line-height:12.3px;font-weight:700;-webkit-text-stroke-width:0.45px;color:#fff;">1.3</span>
<span style="left:607.6px;top:780.2px;font-size:10.27px;line-height:12.3px;font-weight:700;-webkit-text-stroke-width:0.45px;color:#fff;">1.28</span>
<span style="left:495.8px;top:872.6px;font-size:10.26px;line-height:12.3px;color:#777;">0</span>
<span style="left:1024.0px;top:872.6px;font-size:10.26px;line-height:12.3px;color:#777;">10</span>
<span style="left:740.5px;top:861.7px;font-size:9.86px;line-height:11.8px;color:#888;">Usage (%)</span>
<span style="left:460.8px;top:714.2px;font-size:10.28px;line-height:12.3px;color:#888;transform:rotate(-90deg);">Sites</span>
<div style="left:820.6px;top:925.8px;width:15.8px;height:15.0px;background:#d78a10;border:1.2px solid rgba(0,0,0,0.3);"></div>
<span style="left:845.0px;top:926.0px;font-size:12.22px;line-height:14.7px;letter-spacing:0.60px;color:#7b94c2;">Current</span>
<div style="left:914.4px;top:925.8px;width:15.7px;height:15.0px;background:#7c7f86;border:1.2px solid rgba(0,0,0,0.3);"></div>
<span style="left:939.6px;top:926.0px;font-size:12.22px;line-height:14.7px;letter-spacing:0.62px;color:#7b94c2;">Previous 24 Hrs</span>
<div class="card" style="left:1077.0px;top:491.3px;width:820.4px;height:462.6px;"></div>
<span style="left:1102.6px;top:523.7px;font-size:18.25px;line-height:21.9px;font-weight:700;-webkit-text-stroke-width:0.45px;letter-spacing:0.71px;color:#1c1c1c;">Tunnel Health</span>
<svg style="left:1237.1px;top:526.6px;" width="15.7" height="16.0" viewBox="0 0 4 4" preserveAspectRatio="none"><circle cx="2" cy="2" r="1.55" fill="none" stroke="#3c3c3c" stroke-width="0.5"/><path d="M2 1.8V2.9" stroke="#3c3c3c" stroke-width="0.5"/><circle cx="2" cy="1.15" r="0.3" fill="#3c3c3c"/></svg>
<div class="dd" style="left:1265.4px;top:516.2px;width:154.4px;height:36.5px;"></div>
<span style="left:1278.7px;top:525.6px;font-size:14.68px;line-height:17.6px;font-weight:700;-webkit-text-stroke-width:0.45px;letter-spacing:0.72px;color:#333;">Latency (ms)</span>
<svg style="left:1392.2px;top:530.8px;" width="12.6" height="8.8" viewBox="0 0 3.2 2.2" preserveAspectRatio="none"><path d="M0.3 0.3H2.9L1.6 2.0Z" fill="#3a3a3a"/></svg>
<div class="dd" style="left:1432.1px;top:516.2px;width:153.9px;height:36.5px;"></div>
<span style="left:1445.4px;top:525.6px;font-size:14.68px;line-height:17.6px;font-weight:700;-webkit-text-stroke-width:0.45px;letter-spacing:0.47px;color:#333;">Poor Tunnels</span>
<svg style="left:1558.9px;top:530.8px;" width="12.6" height="8.8" viewBox="0 0 3.2 2.2" preserveAspectRatio="none"><path d="M0.3 0.3H2.9L1.6 2.0Z" fill="#3a3a3a"/></svg>
<span style="left:1784.2px;top:525.8px;font-size:14.68px;line-height:17.6px;font-weight:700;-webkit-text-stroke-width:0.45px;letter-spacing:0.95px;color:#2a5db0;-webkit-text-stroke-width:0.30px;">View Details</span>
<svg style="left:1099.9px;top:583.9px;" width="165.9" height="168.3" viewBox="-21.10 -21.10 42.20 42.20" preserveAspectRatio="none"><path d="M-0.000 -16.550 A16.55 16.55 0 0 0 -10.638 -12.678" fill="none" stroke="#cc2331" stroke-width="7.90"/><path d="M-10.638 -12.678 A16.55 16.55 0 0 0 -11.497 -11.905" fill="none" stroke="#e0b020" stroke-width="7.90"/><path d="M-11.497 -11.905 A16.55 16.55 0 1 0 0.000 -16.550" fill="none" stroke="#3f9c24" stroke-width="7.90"/><path d="M-0.000 -12.600 L-0.000 -20.500" stroke="#ead98a" stroke-width="0.55"/><path d="M-8.099 -9.652 L-13.177 -15.704" stroke="#ead98a" stroke-width="0.55"/><path d="M-8.753 -9.064 L-14.240 -14.746" stroke="#ead98a" stroke-width="0.55"/><circle cx="0" cy="0" r="20.20" fill="none" stroke="#000" stroke-opacity="0.30" stroke-width="0.7"/><circle cx="0" cy="0" r="12.90" fill="none" stroke="#000" stroke-opacity="0.25" stroke-width="0.6"/></svg>
<span style="left:1165.9px;top:638.8px;font-size:30.88px;line-height:37.1px;color:#555;-webkit-text-stroke:0;">54</span>
<span style="left:1164.1px;top:677.7px;font-size:10.69px;line-height:12.8px;color:#8a8a8a;">Tunnels</span>
<div style="left:1116.3px;top:768.1px;width:14.9px;height:15.1px;background:#3f9c24;border:1.2px solid rgba(0,0,0,0.35);"></div>
<span style="left:1141.6px;top:769.0px;font-size:11.06px;line-height:13.3px;letter-spacing:0.15px;color:#7b94c2;">Good</span>
<div style="left:1116.1px;top:807.0px;width:14.9px;height:15.1px;background:#d58c0c;border:1.2px solid rgba(0,0,0,0.35);"></div>
<span style="left:1141.3px;top:807.9px;font-size:11.06px;line-height:13.3px;letter-spacing:0.37px;color:#7b94c2;">Fair</span>
<div style="left:1115.9px;top:846.7px;width:14.9px;height:15.1px;background:#cc2331;border:1.2px solid rgba(0,0,0,0.35);"></div>
<span style="left:1141.1px;top:847.6px;font-size:11.05px;line-height:13.3px;letter-spacing:0.08px;color:#7b94c2;">Poor</span>
<div style="left:1339.0px;top:576.3px;width:0.0px;height:294.6px;background:#c9c9c9;"></div>
<div style="left:1875.9px;top:576.3px;width:-2.6px;height:294.6px;background:#cfcfcf;"></div>
<div style="left:1337.2px;top:854.2px;width:535.5px;height:1.6px;background:#d9d9d9;"></div>
<span style="left:1349.3px;top:575.0px;font-size:11.50px;line-height:13.8px;letter-spacing:0.59px;color:#666;-webkit-text-stroke-width:0.40px;">SITE-San-Jose:private1-MAIN-Seattle:private1</span>
<div style="left:1341.7px;top:591.5px;width:438.1px;height:19.6px;background:#c8202f;"></div>
<div style="left:1341.5px;top:611.0px;width:442.7px;height:17.6px;background:#7c808a;"></div>
<span style="left:1545.0px;top:595.1px;font-size:10.30px;line-height:12.4px;font-weight:700;-webkit-text-stroke-width:0.45px;color:#fff;">386.72</span>
<span style="left:1547.1px;top:613.7px;font-size:10.30px;line-height:12.4px;font-weight:700;-webkit-text-stroke-width:0.45px;color:#fff;">388.84</span>
<span style="left:1348.8px;top:630.5px;font-size:11.49px;line-height:13.8px;letter-spacing:0.94px;color:#666;-webkit-text-stroke-width:0.40px;">SITE-San-Jose:private1-Azure-Central-US-1:public-internet</span>
<div style="left:1341.2px;top:647.0px;width:524.8px;height:19.5px;background:#c8202f;"></div>
<div style="left:1341.0px;top:666.5px;width:526.2px;height:17.5px;background:#7c808a;"></div>
<span style="left:1587.8px;top:650.6px;font-size:10.29px;line-height:12.4px;font-weight:700;-webkit-text-stroke-width:0.45px;color:#fff;">414.48</span>
<span style="left:1588.4px;top:669.1px;font-size:10.29px;line-height:12.3px;font-weight:700;-webkit-text-stroke-width:0.45px;color:#fff;">415.07</span>
<span style="left:1348.2px;top:685.2px;font-size:11.48px;line-height:13.8px;letter-spacing:0.94px;color:#666;-webkit-text-stroke-width:0.40px;">Azure-Central-US-1:public-internet-SITE-San-Jose:private1</span>
<div style="left:1340.6px;top:701.6px;width:525.1px;height:19.5px;background:#c8202f;"></div>
<div style="left:1340.5px;top:721.1px;width:524.9px;height:17.5px;background:#7c808a;"></div>
<span style="left:1587.5px;top:705.2px;font-size:10.29px;line-height:12.3px;font-weight:700;-webkit-text-stroke-width:0.45px;color:#fff;">414.91</span>
<span style="left:1587.2px;top:723.7px;font-size:10.28px;line-height:12.3px;font-weight:700;-webkit-text-stroke-width:0.45px;color:#fff;">414.63</span>
<span style="left:1347.7px;top:738.9px;font-size:11.47px;line-height:13.8px;letter-spacing:0.94px;color:#666;-webkit-text-stroke-width:0.40px;">SITE-San-Jose:private1-Azure-Central-US-2:public-internet</span>
<div style="left:1340.1px;top:756.9px;width:524.6px;height:19.5px;background:#c8202f;"></div>
<div style="left:1339.9px;top:776.4px;width:525.3px;height:17.5px;background:#7c808a;"></div>
<span style="left:1586.7px;top:760.5px;font-size:10.28px;line-height:12.3px;font-weight:700;-webkit-text-stroke-width:0.45px;color:#fff;">414.73</span>
<span style="left:1586.9px;top:779.0px;font-size:10.27px;line-height:12.3px;font-weight:700;-webkit-text-stroke-width:0.45px;color:#fff;">414.97</span>
<span style="left:1347.2px;top:793.8px;font-size:11.46px;line-height:13.7px;letter-spacing:0.94px;color:#666;-webkit-text-stroke-width:0.40px;">Azure-Central-US-2:public-internet-SITE-San-Jose:private1</span>
<div style="left:1339.6px;top:810.6px;width:528.1px;height:19.0px;background:#c8202f;"></div>
<div style="left:1339.4px;top:829.6px;width:526.4px;height:17.1px;background:#7c808a;"></div>
<span style="left:1588.0px;top:813.9px;font-size:10.27px;line-height:12.3px;font-weight:700;-webkit-text-stroke-width:0.45px;color:#fff;">416.46</span>
<span style="left:1587.0px;top:832.0px;font-size:10.26px;line-height:12.3px;font-weight:700;-webkit-text-stroke-width:0.45px;color:#fff;">415.88</span>
<span style="left:1336.9px;top:872.6px;font-size:10.26px;line-height:12.3px;color:#777;">0</span>
<span style="left:1863.8px;top:872.6px;font-size:10.26px;line-height:12.3px;color:#777;">300</span>
<span style="left:1575.8px;top:858.6px;font-size:9.86px;line-height:11.8px;color:#888;">Latency (ms)</span>
<span style="left:1299.0px;top:712.2px;font-size:10.28px;line-height:12.3px;color:#888;transform:rotate(-90deg);">Tunnels</span>
<div style="left:1664.5px;top:926.2px;width:14.8px;height:15.0px;background:#c8202f;"></div>
<span style="left:1686.9px;top:926.4px;font-size:12.22px;line-height:14.7px;letter-spacing:0.71px;color:#7b94c2;">Current</span>
<div style="left:1757.9px;top:926.2px;width:14.7px;height:15.0px;background:#7c808a;"></div>
<span style="left:1781.5px;top:926.4px;font-size:12.22px;line-height:14.7px;letter-spacing:0.46px;color:#7b94c2;">Previous 24 Hrs</span>
<div class="card" style="left:233.7px;top:978.4px;width:819.9px;height:510.3px;"></div>
<span style="left:258.1px;top:1012.5px;font-size:18.10px;line-height:21.7px;font-weight:700;-webkit-text-stroke-width:0.45px;letter-spacing:0.82px;color:#1c1c1c;">WAN Edge Health</span>
<svg style="left:427.7px;top:1015.5px;" width="15.8" height="15.8" viewBox="0 0 4 4" preserveAspectRatio="none"><circle cx="2" cy="2" r="1.55" fill="none" stroke="#3c3c3c" stroke-width="0.5"/><path d="M2 1.8V2.9" stroke="#3c3c3c" stroke-width="0.5"/><circle cx="2" cy="1.15" r="0.3" fill="#3c3c3c"/></svg>
<div class="dd" style="left:455.6px;top:1007.2px;width:157.2px;height:33.5px;"></div>
<span style="left:468.7px;top:1015.2px;font-size:14.56px;line-height:17.5px;font-weight:700;-webkit-text-stroke-width:0.45px;letter-spacing:0.37px;color:#333;">CPU Load (%)</span>
<svg style="left:586.7px;top:1020.4px;" width="12.6" height="8.7" viewBox="0 0 3.2 2.2" preserveAspectRatio="none"><path d="M0.3 0.3H2.9L1.6 2.0Z" fill="#3a3a3a"/></svg>
<div class="dd" style="left:625.6px;top:1007.2px;width:146.0px;height:33.5px;"></div>
<span style="left:638.7px;top:1015.2px;font-size:14.56px;line-height:17.5px;font-weight:700;-webkit-text-stroke-width:0.45px;letter-spacing:0.52px;color:#333;">Fair Devices</span>
<svg style="left:745.7px;top:1020.4px;" width="12.6" height="8.7" viewBox="0 0 3.2 2.2" preserveAspectRatio="none"><path d="M0.3 0.3H2.9L1.6 2.0Z" fill="#3a3a3a"/></svg>
<span style="left:839.8px;top:1014.6px;font-size:14.56px;line-height:17.5px;font-weight:700;-webkit-text-stroke-width:0.45px;letter-spacing:0.51px;color:#2a5db0;-webkit-text-stroke-width:0.30px;">Geography</span>
<span style="left:939.3px;top:1014.6px;font-size:14.56px;line-height:17.5px;font-weight:700;-webkit-text-stroke-width:0.45px;letter-spacing:0.81px;color:#2a5db0;-webkit-text-stroke-width:0.30px;">View Details</span>
<svg style="left:260.1px;top:1074.9px;" width="166.9" height="165.6" viewBox="-21.10 -21.10 42.20 42.20" preserveAspectRatio="none"><path d="M-0.000 -16.550 A16.55 16.55 0 0 0 -14.333 -8.275" fill="none" stroke="#d58c0c" stroke-width="7.90"/><path d="M-14.333 -8.275 A16.55 16.55 0 1 0 0.000 -16.550" fill="none" stroke="#3f9c24" stroke-width="7.90"/><path d="M-0.000 -12.600 L-0.000 -20.500" stroke="#ead98a" stroke-width="0.55"/><path d="M-10.912 -6.300 L-17.754 -10.250" stroke="#ead98a" stroke-width="0.55"/><circle cx="0" cy="0" r="20.20" fill="none" stroke="#000" stroke-opacity="0.30" stroke-width="0.7"/><circle cx="0" cy="0" r="12.90" fill="none" stroke="#000" stroke-opacity="0.25" stroke-width="0.6"/></svg>
<span style="left:335.1px;top:1128.9px;font-size:30.63px;line-height:36.8px;color:#555;-webkit-text-stroke:0;">6</span>
<span style="left:343.8px;top:1167.2px;font-size:10.60px;line-height:12.7px;color:#8a8a8a;"></span>
<div style="left:498.0px;top:1069.0px;width:3.1px;height:84.1px;background:#c9c9c9;"></div>
<div style="left:1030.4px;top:1069.0px;width:2.4px;height:84.1px;background:#cfcfcf;"></div>
<div class="card" style="left:1077.3px;top:978.4px;width:810.8px;height:510.3px;"></div>
<span style="left:1102.3px;top:1012.5px;font-size:18.10px;line-height:21.7px;font-weight:700;-webkit-text-stroke-width:0.45px;letter-spacing:0.79px;color:#1c1c1c;">Application Health</span>
<svg style="left:1281.8px;top:1015.5px;" width="15.6" height="15.8" viewBox="0 0 4 4" preserveAspectRatio="none"><circle cx="2" cy="2" r="1.55" fill="none" stroke="#3c3c3c" stroke-width="0.5"/><path d="M2 1.8V2.9" stroke="#3c3c3c" stroke-width="0.5"/><circle cx="2" cy="1.15" r="0.3" fill="#3c3c3c"/></svg>
<div class="dd" style="left:1308.2px;top:1007.2px;width:253.9px;height:33.5px;"></div>
<span style="left:1315.6px;top:1015.2px;font-size:14.56px;line-height:17.5px;font-weight:700;-webkit-text-stroke-width:0.45px;letter-spacing:0.61px;color:#333;">Fair Performing Applications</span>
<svg style="left:1540.7px;top:1020.4px;" width="12.5" height="8.7" viewBox="0 0 3.2 2.2" preserveAspectRatio="none"><path d="M0.3 0.3H2.9L1.6 2.0Z" fill="#3a3a3a"/></svg>
<span style="left:1781.9px;top:1014.6px;font-size:14.56px;line-height:17.5px;font-weight:700;-webkit-text-stroke-width:0.45px;letter-spacing:0.78px;color:#2a5db0;-webkit-text-stroke-width:0.30px;">View Details</span>
<span style="left:1848.6px;top:1050.0px;font-size:13.37px;line-height:16.0px;font-weight:700;-webkit-text-stroke-width:0.45px;letter-spacing:-0.25px;color:#222;">QoE</span>
<svg style="left:1098.1px;top:1074.9px;" width="164.6" height="165.6" viewBox="-21.10 -21.10 42.20 42.20" preserveAspectRatio="none"><path d="M-0.000 -16.550 A16.55 16.55 0 0 0 -7.691 -14.654" fill="none" stroke="#d58c0c" stroke-width="7.90"/><path d="M-7.691 -14.654 A16.55 16.55 0 1 0 0.000 -16.550" fill="none" stroke="#3f9c24" stroke-width="7.90"/><path d="M-0.000 -12.600 L-0.000 -20.500" stroke="#ead98a" stroke-width="0.55"/><path d="M-5.856 -11.157 L-9.527 -18.152" stroke="#ead98a" stroke-width="0.55"/><circle cx="0" cy="0" r="20.20" fill="none" stroke="#000" stroke-opacity="0.30" stroke-width="0.7"/><circle cx="0" cy="0" r="12.90" fill="none" stroke="#000" stroke-opacity="0.25" stroke-width="0.6"/></svg>
<span style="left:1163.5px;top:1128.9px;font-size:30.63px;line-height:36.8px;color:#555;-webkit-text-stroke:0;">13</span>
<span style="left:1180.4px;top:1167.2px;font-size:10.60px;line-height:12.7px;color:#8a8a8a;"></span>
<div style="left:1340.7px;top:1069.0px;width:2.0px;height:84.1px;background:#c9c9c9;"></div>
<div style="left:1811.0px;top:1069.0px;width:1.3px;height:84.1px;background:#cacaca;"></div>
</div>
</body></html>
